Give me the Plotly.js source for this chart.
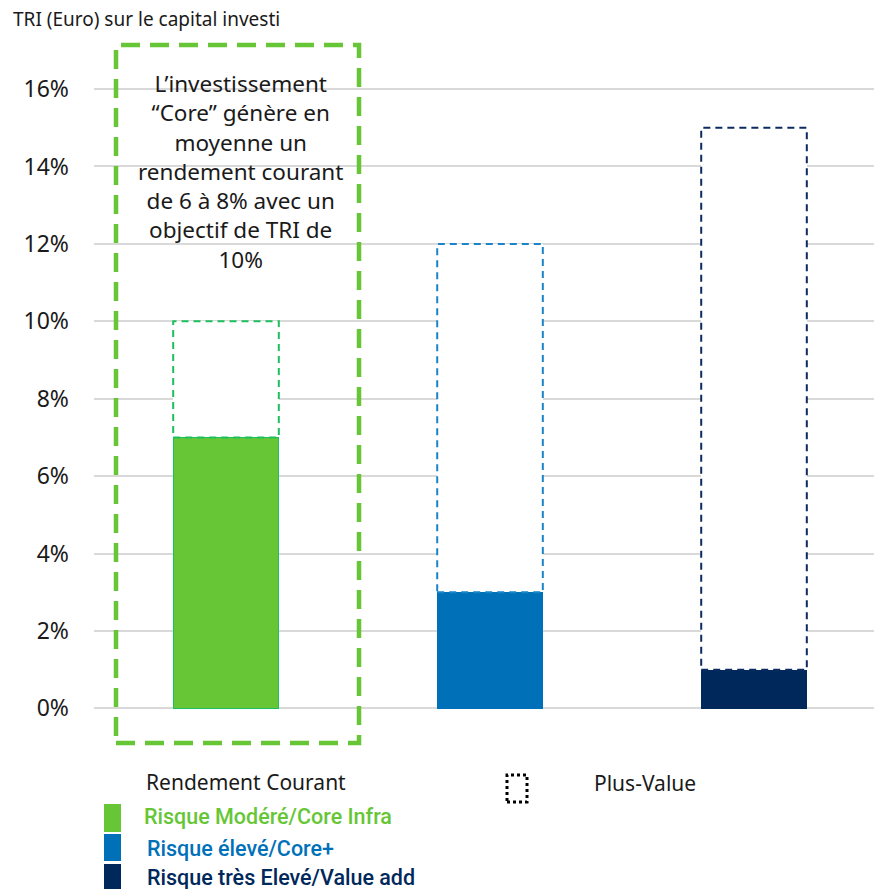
<!DOCTYPE html>
<html>
<head>
<meta charset="utf-8">
<script src="https://cdn.plot.ly/plotly-3.0.1.min.js"></script>
<style>html,body{margin:0;padding:0;background:#fff;}#chart{width:874px;height:889px;}</style>
</head>
<body>
<div id="chart"></div>
<script>
// ---- data ----
const categories = ["Risque Modéré/Core Infra", "Risque élevé/Core+", "Risque très Elevé/Value add"];
const currentYield = [7, 3, 1];      // Rendement Courant (%)
const capitalGain = [3, 9, 14];      // Plus-Value (%) -> totals 10, 12, 15
const solidColors = ["#66c636", "#0071b9", "#00285a"];
const dashColors = ["#1dbf5e", "#1a84c7", "#0d2b60"];
const seriesNames = ["Rendement Courant", "Plus-Value"];
const yTicks = [0, 2, 4, 6, 8, 10, 12, 14, 16];
const yTickLabels = ["0%", "2%", "4%", "6%", "8%", "10%", "12%", "14%", "16%"];
const chartTitle = "TRI (Euro) sur le capital investi";
const noteText = "L’investissement<br>“Core” génère en<br>moyenne un<br>rendement courant<br>de 6 à 8% avec un<br>objectif de TRI de<br>10%";

// ---- layout helpers ----
const W = 874, H = 889;
const M = {l: 94, r: 0, t: 31, b: 138};
const PW = W - M.l - M.r, PH = H - M.t - M.b;
const px = x => (x - M.l) / PW;
const py = y => (H - M.b - y) / PH;
const FONT = "Noto Sans, Open Sans, sans-serif";
const xIdx = categories.map((_, i) => i);
const barW = 0.4;

const traces = [
  {type: "bar", x: xIdx, y: currentYield, name: seriesNames[0], width: barW,
   marker: {color: solidColors, line: {color: dashColors.map((c, i) => i === 0 ? c : solidColors[i]), width: 1}},
   showlegend: false, hoverinfo: "skip"},
  {type: "bar", x: xIdx, y: capitalGain, name: seriesNames[1], width: barW,
   marker: {color: "#ffffff", line: {width: 0}}, showlegend: false, hoverinfo: "skip"}
];

const shapes = [];
// dashed outlines of plus-value segments
xIdx.forEach(i => {
  shapes.push({type: "rect", xref: "x", yref: "y", layer: "above",
    x0: i - barW / 2, x1: i + barW / 2, y0: currentYield[i], y1: currentYield[i] + capitalGain[i],
    line: {color: dashColors[i], width: 2, dash: "7px,5px"}, fillcolor: "rgba(0,0,0,0)"});
});
// green dashed highlight box
shapes.push({type: "rect", xref: "paper", yref: "paper", layer: "above",
  x0: px(116), x1: px(359), y0: py(743), y1: py(45),
  line: {color: "#66c636", width: 4.5, dash: "19px,10px"}, fillcolor: "rgba(0,0,0,0)"});
// legend dotted icon
shapes.push({type: "rect", xref: "paper", yref: "paper", layer: "above",
  x0: px(507), x1: px(527), y0: py(802), y1: py(775),
  line: {color: "#000000", width: 3, dash: "dot"}, fillcolor: "rgba(0,0,0,0)"});
// legend colour squares
const sqY = [[804, 832], [834, 861], [864, 889]];
solidColors.forEach((c, i) => {
  shapes.push({type: "rect", xref: "paper", yref: "paper", layer: "above",
    x0: px(104), x1: px(121), y0: py(sqY[i][1]), y1: py(sqY[i][0]),
    line: {width: 0}, fillcolor: c});
});

const annotations = [
  {xref: "paper", yref: "paper", x: px(240), y: py(172), xanchor: "center", yanchor: "middle",
   text: noteText, showarrow: false, align: "center", font: {family: FONT, size: 22.5, color: "#1a1a1a"}},
  {xref: "paper", yref: "paper", x: px(246), y: py(782), xanchor: "center", yanchor: "middle",
   text: seriesNames[0], showarrow: false, font: {family: FONT, size: 21, color: "#1a1a1a"}},
  {xref: "paper", yref: "paper", x: px(645), y: py(783), xanchor: "center", yanchor: "middle",
   text: seriesNames[1], showarrow: false, font: {family: FONT, size: 21, color: "#1a1a1a"}}
];
const legY = [817, 848, 877];
const legX = [142, 145, 145];
categories.forEach((c, i) => {
  annotations.push({xref: "paper", yref: "paper", x: px(legX[i]), y: py(legY[i]), xanchor: "left", yanchor: "middle",
    text: c, showarrow: false, font: {family: "Roboto, sans-serif", size: 21.5, weight: 500, color: solidColors[i]}});
});

const layout = {
  width: W, height: H, margin: M, paper_bgcolor: "#fff", plot_bgcolor: "#fff",
  barmode: "stack", showlegend: false,
  title: {text: chartTitle, xref: "container", yref: "container", x: 13 / W, xanchor: "left",
          y: 1 - 19 / H, yanchor: "middle", font: {family: FONT, size: 19, color: "#1a1a1a"}},
  xaxis: {type: "linear", range: [-0.5, 2.4545], showticklabels: false, showgrid: false, zeroline: false,
          showline: false, ticks: "", fixedrange: true},
  yaxis: {range: [-1.1, 17.5], tickvals: yTicks, ticktext: yTickLabels, showgrid: true, gridcolor: "#d9d9d9",
          gridwidth: 2, zeroline: false, showline: false, ticks: "", ticklabelstandoff: 24,
          tickfont: {family: FONT, size: 23, color: "#1a1a1a"}, fixedrange: true},
  shapes: shapes, annotations: annotations
};

Plotly.newPlot("chart", traces, layout, {staticPlot: true, displayModeBar: false});
</script>
</body>
</html>
